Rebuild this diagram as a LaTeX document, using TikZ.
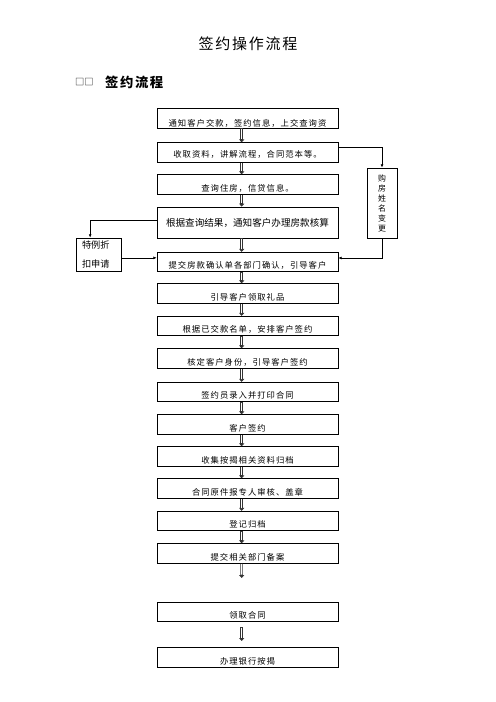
\documentclass[tikz,border=0pt]{standalone}
\usepackage{fontspec}
\usetikzlibrary{arrows.meta}
\newfontfamily\cjk{Noto Sans CJK SC}
\newfontfamily\cjkwide{Noto Sans CJK SC}[LetterSpace=12]
\newfontfamily\cjkhead{Noto Sans CJK SC}[LetterSpace=12]

\begin{document}
\begin{tikzpicture}[x=1.2pt,y=-1.2pt,
		flowbox/.style={draw,line width=0.9pt,minimum width=217pt,minimum height=23.4pt,inner sep=0pt,
			font=\cjkwide\fontsize{10}{11}\selectfont,text height=18pt,text depth=1.5pt},
		flowarrow/.style={draw=black!80,line width=3pt,-{Triangle[length=3.5pt,width=6pt]},
			postaction={draw=white,line width=1.6pt,shorten <=0.6pt,shorten >=4pt,-}},
		sidearrow/.style={draw,line width=0.8pt,-{Latex[length=4pt,width=3.5pt]}}]
		\useasboundingbox (0,0) rectangle (496,702);

		\node (title) at (248,44) {\cjkhead\fontsize{18}{20}\selectfont 签约操作流程};
		\node[anchor=west,inner sep=0pt] (marks) at (75,82) {\cjk\fontsize{11}{12}\selectfont □□};
		\node[anchor=west,inner sep=0pt] (heading) at (105,82) {\cjkhead\bfseries\fontsize{16}{18}\selectfont 签约流程};

		\node[flowbox,text height=22.5pt] (b1) at (247.5,118) {通知客户交款，签约信息，上交查询资};
		\node[flowbox,text height=14.5pt] (b2) at (247.5,152.5) {收取资料，讲解流程，合同范本等。};
		\node[flowbox] (b3) at (247.5,184.5) {查询住房，信贷信息。};
		\node[flowbox,minimum height=37.2pt,font=\cjk\fontsize{11.5}{13}\selectfont,text height=10.2pt] (b4) at (247.5,222.5) {根据查询结果，通知客户办理房款核算};
		\node[flowbox] (b5) at (247.5,262) {提交房款确认单各部门确认，引导客户};
		\node[flowbox] (b6) at (247.5,293.5) {引导客户领取礼品};
		\node[flowbox] (b7) at (247.5,326) {根据已交款名单，安排客户签约};
		\node[flowbox] (b8) at (247.5,358.5) {核定客户身份，引导客户签约};
		\node[flowbox] (b9) at (247.5,392) {签约员录入并打印合同};
		\node[flowbox] (b10) at (247.5,424.5) {客户签约};
		\node[flowbox] (b11) at (247.5,456.5) {收集按揭相关资料归档};
		\node[flowbox] (b12) at (247.5,488.5) {合同原件报专人审核、盖章};
		\node[flowbox] (b13) at (247.5,521) {登记归档};
		\node[flowbox] (b14) at (247.5,553.5) {提交相关部门备案};
		\node[flowbox] (b15) at (247.5,612) {领取合同};
		\node[flowbox] (b16) at (247.5,657.5) {办理银行按揭};

		\node[draw,line width=0.9pt,minimum width=54pt,minimum height=39.6pt,inner xsep=7.2pt,inner ysep=0pt,
			text width=39.6pt,align=left,font=\cjk\fontsize{11}{22.8}\selectfont] (special) at (98.5,254.5) {特例折\\扣申请};
		\node[draw,line width=0.9pt,minimum width=36pt,minimum height=84pt,inner sep=0pt,
			align=center,font=\cjk\fontsize{9.5}{12}\selectfont] (change) at (382,203) {购\\房\\姓\\名\\变\\更};

		\foreach \i [count=\j from 2] in {1,...,13}{
			\draw[flowarrow] ([xshift=-7pt]b\i.south) -- ([xshift=-7pt]b\j.north);
		}
		\coordinate (a1) at (241.7,578);
		\coordinate (a2) at (241.7,627);
		\coordinate (a3) at (241.7,641);
		\draw[flowarrow] ([xshift=-7pt]b14.south) -- (a1);
		\draw[flowarrow] (a2) -- (a3);

		\draw[sidearrow] ([yshift=3pt]b4.west) -| ([xshift=-10pt]special.north);
		\draw[sidearrow] ([yshift=-4pt]special.east) coordinate (s1) -- (s1 -| b5.west);
		\draw[sidearrow] ([yshift=6pt]b2.east) -| (change.north);
		\draw[sidearrow] (change.south) |- ([yshift=4.8pt]b5.east);
	\end{tikzpicture}
\end{document}
